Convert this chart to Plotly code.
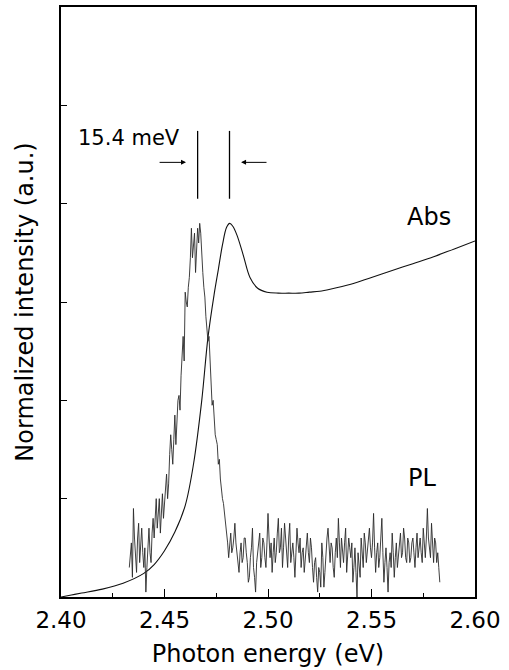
import plotly.graph_objects as go

# ---- data ----
pl_start = 2.433
pl_step = 0.0005
pl_values = [
    0.30, 0.45, 0.55, 0.20, 0.90, 0.60, 0.40, 0.25, 0.60, 0.75, 0.35, 0.50, 0.70, 0.45, 0.30, 0.50, 0.05, 0.30, 0.55, 0.70,
    0.45, 0.35, 0.65, 0.80, 0.60, 0.75, 1.00, 0.70, 0.85, 1.00, 0.65, 0.80, 1.05, 0.80, 0.95, 1.20, 1.25, 1.00, 1.15, 1.45,
    1.65, 1.50, 1.35, 1.60, 1.85, 1.55, 1.75, 2.00, 2.05, 1.90, 2.25, 2.50, 2.65, 2.40, 3.10, 3.00, 2.95, 3.15, 3.25, 3.45,
    3.75, 3.45, 3.55, 3.70, 3.30, 3.55, 3.75, 3.60, 3.80, 3.70, 3.45, 3.30, 3.15, 3.05, 2.85, 2.75, 2.60, 2.65, 2.40, 2.20,
    1.95, 2.00, 1.80, 1.65, 1.60, 1.55, 1.35, 1.40, 1.20, 1.05, 1.00, 0.95, 0.85, 0.75, 0.70, 0.55, 0.40, 0.50, 0.65, 0.45,
    0.50, 0.60, 0.75, 0.55, 0.45, 0.30, 0.25, 0.45, 0.55, 0.35, 0.40, 0.60, 0.60, 0.45, 0.35, 0.15, 0.20, 0.40, 0.50, 0.70,
    0.30, 0.20, 0.05, 0.35, 0.45, 0.55, 0.65, 0.30, 0.40, 0.60, 0.55, 0.40, 0.30, 0.55, 0.85, 0.60, 0.40, 0.55, 0.25, 0.45,
    0.60, 0.35, 0.45, 0.65, 0.80, 0.45, 0.50, 0.70, 0.30, 0.50, 0.75, 0.60, 0.45, 0.30, 0.60, 0.75, 0.35, 0.50, 0.55, 0.40,
    0.20, 0.45, 0.70, 0.55, 0.45, 0.60, 0.30, 0.45, 0.50, 0.25, 0.40, 0.55, 0.65, 0.45, 0.35, 0.60, 0.50, 0.30, 0.15, 0.35,
    0.40, 0.20, 0.05, 0.30, 0.25, 0.10, 0.55, 0.40, 0.10, 0.25, 0.45, 0.60, 0.70, 0.50, 0.35, 0.55, 0.50, 0.30, 0.20, 0.45,
    0.60, 0.40, 0.80, 0.55, 0.30, 0.60, 0.45, 0.35, 0.55, 0.70, 0.25, 0.45, 0.60, 0.50, 0.40, 0.55, 0.15, 0.30, 0.50, 0.25,
    0.00, 0.45, 0.35, 0.20, 0.60, 0.45, 0.30, 0.65, 0.55, 0.35, 0.45, 0.60, 0.70, 0.50, 0.40, 0.55, 0.85, 0.50, 0.25, 0.45,
    0.55, 0.30, 0.40, 0.60, 0.80, 0.45, 0.15, 0.35, 0.50, 0.30, 0.05, 0.35, 0.45, 0.30, 0.65, 0.45, 0.20, 0.40, 0.55, 0.30,
    0.40, 0.55, 0.65, 0.40, 0.45, 0.70, 0.60, 0.40, 0.35, 0.60, 0.55, 0.35, 0.40, 0.55, 0.60, 0.45, 0.30, 0.50, 0.65, 0.40,
    0.50, 0.60, 0.45, 0.35, 0.70, 0.55, 0.40, 0.60, 0.90, 0.60, 0.50, 0.40, 0.75, 0.55, 0.35, 0.60, 0.55, 0.35, 0.45, 0.30,
    0.15,
]
pl_energy = [round(pl_start + i * pl_step, 5) for i in range(len(pl_values))]

abs_energy = [2.400, 2.405, 2.410, 2.420, 2.430, 2.440, 2.445, 2.450, 2.455,
              2.460, 2.464, 2.468, 2.471, 2.474, 2.476, 2.478, 2.480, 2.4815,
              2.483, 2.485, 2.488, 2.4913, 2.495, 2.4995, 2.505, 2.510, 2.515,
              2.520, 2.525, 2.530, 2.540, 2.550, 2.560, 2.570, 2.580, 2.590, 2.600]
abs_values = [0.00, 0.02, 0.04, 0.08, 0.14, 0.24, 0.33, 0.47, 0.66,
              0.93, 1.35, 2.00, 2.64, 3.08, 3.33, 3.58, 3.76, 3.80,
              3.77, 3.68, 3.48, 3.25, 3.14, 3.10, 3.09, 3.09, 3.09,
              3.10, 3.11, 3.13, 3.18, 3.25, 3.32, 3.39, 3.46, 3.54, 3.62]

x_ticks = [2.40, 2.45, 2.50, 2.55, 2.60]
x_tick_labels = ["2.40", "2.45", "2.50", "2.55", "2.60"]
y_ticks = [0, 1, 2, 3, 4, 5, 6]

peak_positions = [2.466, 2.4814]   # PL peak, Abs peak  (15.4 meV)
marker_y = [4.05, 4.74]
arrow_left = (2.4469, 2.4604)
arrow_right = (2.500, 2.487)
arrow_y = 4.42

FONT = "DejaVu Sans"

fig = go.Figure()
fig.add_trace(go.Scatter(x=abs_energy, y=abs_values, mode="lines",
                         line=dict(color="#111111", width=1.1, shape="spline", smoothing=1.0),
                         name="Abs", showlegend=False))
fig.add_trace(go.Scatter(x=pl_energy, y=pl_values, mode="lines",
                         line=dict(color="#2a2a2a", width=0.9),
                         name="PL", showlegend=False))

for xp in peak_positions:
    fig.add_shape(type="line", x0=xp, x1=xp, y0=marker_y[0], y1=marker_y[1],
                  xref="x", yref="y", line=dict(color="black", width=1.3))

for tail, head in (arrow_left, arrow_right):
    fig.add_annotation(x=head, y=arrow_y, ax=tail, ay=arrow_y,
                       xref="x", yref="y", axref="x", ayref="y",
                       text="", showarrow=True, arrowhead=2, arrowsize=1,
                       arrowwidth=1, arrowcolor="black")

fig.add_annotation(x=2.4329, y=4.67, text="15.4 meV", showarrow=False,
                   font=dict(family=FONT, size=21, color="black"))
fig.add_annotation(x=2.5778, y=3.86, text="Abs", showarrow=False,
                   font=dict(family=FONT, size=24, color="black"))
fig.add_annotation(x=2.5744, y=1.21, text="PL", showarrow=False,
                   font=dict(family=FONT, size=24, color="black"))

fig.update_xaxes(range=[2.40, 2.60], tickvals=x_ticks, ticktext=x_tick_labels,
                 ticks="inside", ticklen=8, tickwidth=1.2, tickcolor="black",
                 minor=dict(ticks="inside", ticklen=4, tickwidth=1, tickcolor="black",
                            dtick=0.025, tick0=2.40),
                 showline=True, linecolor="black", linewidth=1.5, mirror=True,
                 showgrid=False, zeroline=False, ticklabelstandoff=2,
                 automargin=False,
                 tickfont=dict(family=FONT, size=23, color="black"),
                 title=dict(text="Photon energy (eV)", standoff=13,
                            font=dict(family=FONT, size=24, color="black")))
fig.update_yaxes(range=[0, 6], tickvals=y_ticks, showticklabels=False,
                 ticks="inside", ticklen=6, tickwidth=1.2, tickcolor="black",
                 showline=True, linecolor="black", linewidth=1.5, mirror=True,
                 showgrid=False, zeroline=False, automargin=False,
                 title=dict(text="Normalized intensity (a.u.)", standoff=19,
                            font=dict(family=FONT, size=24, color="black")))

fig.update_layout(width=509, height=670,
                  margin=dict(l=61, r=34, t=7, b=73),
                  plot_bgcolor="white", paper_bgcolor="white",
                  showlegend=False)

fig.write_html("out.html")
